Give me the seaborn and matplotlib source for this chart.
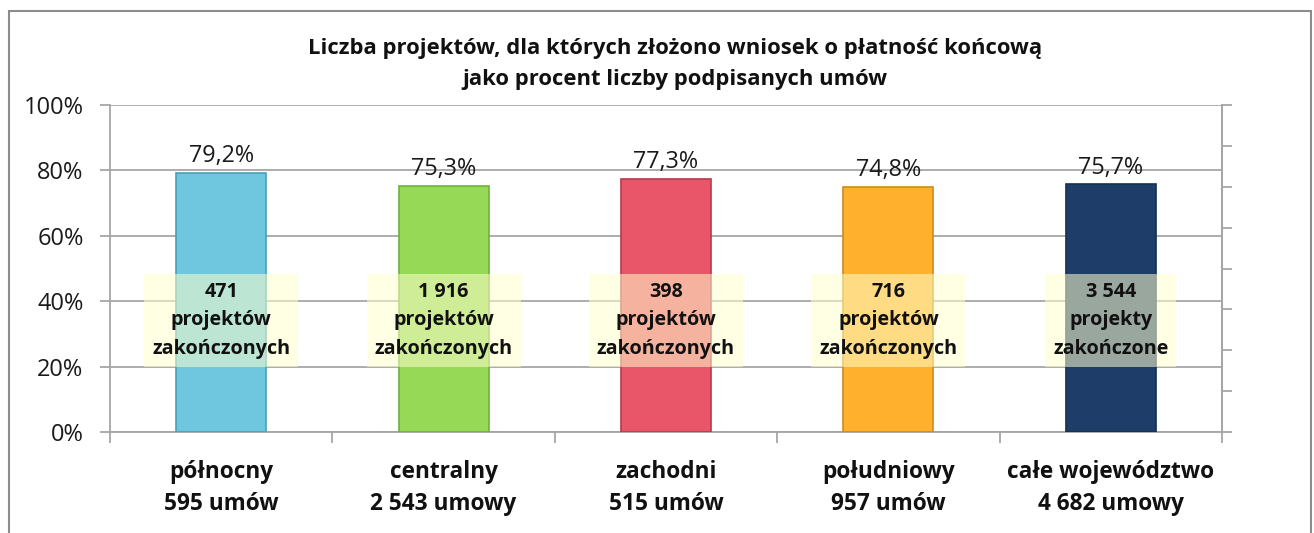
import matplotlib
matplotlib.use("Agg")
import matplotlib.pyplot as plt
import seaborn as sns
import pandas as pd
from matplotlib.patches import Rectangle

regions = ["północny", "centralny", "zachodni", "południowy", "całe województwo"]
contracts = ["595 umów", "2 543 umowy", "515 umów", "957 umów", "4 682 umowy"]
values = [79.2, 75.3, 77.3, 74.8, 75.7]
value_labels = ["79,2%", "75,3%", "77,3%", "74,8%", "75,7%"]
finished = ["471\nprojektów\nzakończonych", "1 916\nprojektów\nzakończonych",
            "398\nprojektów\nzakończonych", "716\nprojektów\nzakończonych",
            "3 544\nprojekty\nzakończone"]
colors = ["#6EC6DF", "#96D957", "#E9566A", "#FFB12E", "#1E3D68"]
edge_colors = ["#4A9FB8", "#6FB03A", "#B83A4B", "#D08A18", "#14304F"]
title = "Liczba projektów, dla których złożono wniosek o płatność końcową\njako procent liczby podpisanych umów"

sns.set_theme(style="white")
plt.rcParams['font.family'] = ['Open Sans', 'DejaVu Sans']

df = pd.DataFrame({"cat": [f"{r}\n{c}" for r, c in zip(regions, contracts)], "val": values})

fig = plt.figure(figsize=(13.14, 5.33), dpi=100)
W, H = 1314, 533
ax = fig.add_axes([110 / W, 1 - 432 / H, (1222 - 110) / W, (432 - 105) / H])

# outer chart frame
fig.patches.append(Rectangle((9 / W, -0.05), (1311 - 9) / W, 1.05 - 11 / H, transform=fig.transFigure,
                             fill=False, edgecolor="#8C8C8C", linewidth=1.5))

sns.barplot(data=df, x="cat", y="val", hue="cat", palette=colors, legend=False,
            width=0.405, ax=ax, zorder=3, saturation=1)
for p, ec in zip(ax.patches, edge_colors):
    p.set_edgecolor(ec)
    p.set_linewidth(1.2)

ax.set_ylim(0, 100)
ax.set_xlim(-0.5, len(regions) - 0.5)
ax.set_yticks(range(0, 101, 20))
ax.set_yticklabels([f"{v}%" for v in range(0, 101, 20)], fontsize=17, color="#1A1A1A")
ax.yaxis.grid(True, color="#A6A6A6", linewidth=1.3, zorder=0)
ax.set_axisbelow(True)
ax.tick_params(axis="y", direction="out", length=7, color="#A6A6A6", width=1.3, pad=12, left=True)

ax.set_xticks(range(len(regions)))
ax.set_xticklabels(df["cat"], fontsize=16.3, fontweight="bold", color="#111111", linespacing=1.47)
ax.set_xticks([i - 0.5 for i in range(len(regions) + 1)], minor=True)
ax.tick_params(axis="x", which="major", length=0, pad=20)
ax.tick_params(axis="x", which="minor", direction="out", length=8, color="#A6A6A6", width=1.3, bottom=True)
ax.set_xlabel("")
ax.set_ylabel("")

ax.spines["top"].set_visible(False)
for side in ["left", "bottom", "right"]:
    ax.spines[side].set_color("#A6A6A6")
    ax.spines[side].set_linewidth(1.3)

# secondary right axis with unlabeled ticks
ax2 = ax.twinx()
ax2.set_ylim(0, 1)
ax2.set_yticks([i / 8 for i in range(9)])
ax2.set_yticklabels([])
ax2.tick_params(axis="y", direction="out", length=7, color="#A6A6A6", width=1.3, right=True)
for side in ["top", "left", "bottom"]:
    ax2.spines[side].set_visible(False)
ax2.spines["right"].set_color("#A6A6A6")
ax2.spines["right"].set_linewidth(1.3)
ax2.grid(False)

for i, (v, lab, fin) in enumerate(zip(values, value_labels, finished)):
    ax.text(i, v + 1.5, lab, ha="center", va="bottom", fontsize=16.8, color="#1A1A1A", zorder=5)
    ax.text(i, 34.1, fin, ha="center", va="center", fontsize=14.2, fontweight="bold",
            color="#111111", linespacing=1.55, zorder=6,
            bbox=dict(boxstyle="square,pad=0.4", facecolor="#FFFFCC", edgecolor="none", alpha=0.55))

fig.text(675 / W, 1 - 64 / H, title, ha="center", va="center", fontsize=15.8,
         fontweight="bold", color="#111111", linespacing=1.6)

fig.savefig("out.png", dpi=100)
